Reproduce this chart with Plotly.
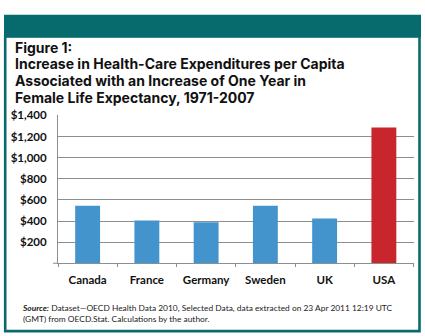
import plotly.graph_objects as go

countries = ["Canada", "France", "Germany", "Sweden", "UK", "USA"]
values = [544, 405, 387, 544, 424, 1286]
bar_colors = ["#4393cc", "#4393cc", "#4393cc", "#4393cc", "#4393cc", "#c8252c"]
y_ticks = [200, 400, 600, 800, 1000, 1200, 1400]
y_labels = ["$200", "$400", "$600", "$800", "$1,000", "$1,200", "$1,400"]
title_lines = [
    "Figure 1:",
    "Increase in Health-Care Expenditures per Capita",
    "Associated with an Increase of One Year in",
    "Female Life Expectancy, 1971-2007",
]
source_text = ("<b><i>Source:</i></b> Dataset\u2014OECD Health Data 2010, Selected Data, data extracted on 23 Apr 2011 12:19 UTC"
               "<br>(GMT) from OECD.Stat. Calculations by the author.")

W, H = 425, 336
TEAL = "#076b6e"
GRID = "#8a8f94"
FONT = "Lato"
TITLE_FONT = "Inter"

def px(x):
    return x / W

def py(y):
    return 1 - y / H

fig = go.Figure(go.Bar(x=countries, y=values, marker=dict(color=bar_colors, line=dict(width=0))))

fig.update_layout(
    width=W, height=H,
    margin=dict(l=0, r=0, t=0, b=0),
    paper_bgcolor="white", plot_bgcolor="white",
    bargap=0.58, showlegend=False,
    font=dict(family=FONT, color="#111111"),
    xaxis=dict(domain=[px(58), px(413.5)], showgrid=False, showline=True, linecolor=GRID, linewidth=1,
               ticks="outside", tickson="boundaries", ticklen=3, tickcolor=GRID,
               tickfont=dict(family=FONT, size=11.5, color="#111111", weight="bold"), ticklabelstandoff=6),
    yaxis=dict(domain=[py(261.7), py(110.7)], range=[0, 1400], tickvals=y_ticks, ticktext=y_labels,
               showgrid=True, gridcolor=GRID, gridwidth=1, showline=True, linecolor=GRID, linewidth=1,
               zeroline=False, ticks="", tickfont=dict(family=FONT, size=11.5, color="#111111", weight="bold"),
               ticklabelstandoff=8),
)

shapes = [
    dict(type="rect", xref="paper", yref="paper", x0=px(5.2), x1=px(419.5), y0=py(331), y1=py(30),
         line=dict(color=TEAL, width=2.6), fillcolor="rgba(0,0,0,0)"),
    dict(type="rect", xref="paper", yref="paper", x0=px(4), x1=px(421), y0=py(31), y1=py(8),
         line=dict(width=0), fillcolor=TEAL),
    dict(type="line", xref="paper", yref="paper", x0=px(53), x1=px(58), y0=py(261.7), y1=py(261.7),
         line=dict(color=GRID, width=1)),
]
fig.update_layout(shapes=shapes)

ys = [41.2, 58.2, 75.2, 92.2]
for line, yy in zip(title_lines, ys):
    fig.add_annotation(text="<b>" + line + "</b>", xref="paper", yref="paper", x=px(13), y=py(yy),
                       xanchor="left", yanchor="middle", showarrow=False,
                       font=dict(family=TITLE_FONT, size=14, color="#111111"))

fig.add_annotation(text=source_text, xref="paper", yref="paper", x=px(19.5), y=py(313.5),
                   xanchor="left", yanchor="middle", align="left", showarrow=False,
                   font=dict(family=FONT, size=8.4, color="#222222"))

fig.write_html("out.html")
